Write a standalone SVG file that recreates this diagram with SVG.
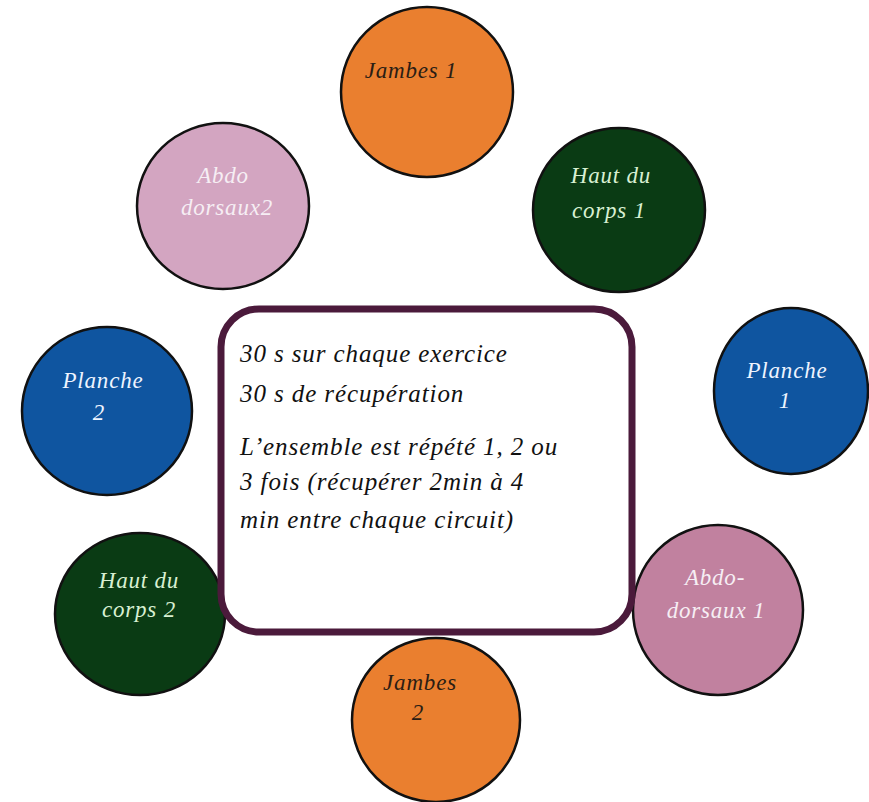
<svg xmlns="http://www.w3.org/2000/svg" width="869" height="802" viewBox="0 0 869 802">
<style>
.c{stroke:#111;stroke-width:2.5}
text{font-family:'Liberation Serif','Times New Roman',serif;font-style:italic}
.t{font-size:23px;letter-spacing:0.8px;text-anchor:middle}
.b{font-size:25px;letter-spacing:0.9px;fill:#111}
</style>
<rect width="869" height="802" fill="#fff"/>
<g id="jambes1"><ellipse class="c" cx="427" cy="92" rx="86" ry="85" fill="#ea7f2f"/><text class="t" x="411" y="78" fill="#2b1d14">Jambes 1</text></g>
<g id="haut-du-corps-1"><ellipse class="c" cx="619" cy="210" rx="86" ry="82" fill="#0a3b14"/><text class="t" x="611" y="183" fill="#d8f0d2">Haut du</text><text class="t" x="609" y="218" fill="#d8f0d2">corps 1</text></g>
<g id="abdo-dorsaux-2"><ellipse class="c" cx="223" cy="206" rx="86" ry="83" fill="#d3a5c1"/><text class="t" x="223" y="183" fill="#f6eef4">Abdo</text><text class="t" x="227" y="215" fill="#f6eef4">dorsaux2</text></g>
<g id="planche-1"><ellipse class="c" cx="791" cy="391" rx="77" ry="83" fill="#0f55a0"/><text class="t" x="787" y="378" fill="#eef4ff">Planche</text><text class="t" x="785" y="408" fill="#eef4ff">1</text></g>
<g id="planche-2"><ellipse class="c" cx="107" cy="411" rx="85" ry="84" fill="#0f55a0"/><text class="t" x="103" y="388" fill="#eef4ff">Planche</text><text class="t" x="99" y="420" fill="#eef4ff">2</text></g>
<g id="abdo-dorsaux-1"><ellipse class="c" cx="718" cy="610" rx="85" ry="85" fill="#c1819f"/><text class="t" x="715" y="585" fill="#f6eef4">Abdo-</text><text class="t" x="716" y="618" fill="#f6eef4">dorsaux 1</text></g>
<g id="haut-du-corps-2"><ellipse class="c" cx="140" cy="614" rx="85" ry="81" fill="#0a3b14"/><text class="t" x="139" y="588" fill="#d8f0d2">Haut du</text><text class="t" x="139" y="617" fill="#d8f0d2">corps 2</text></g>
<g id="jambes2"><ellipse class="c" cx="436" cy="720" rx="84" ry="82" fill="#ea7f2f"/><text class="t" x="420" y="690" fill="#2b1d14">Jambes</text><text class="t" x="418" y="720" fill="#2b1d14">2</text></g>
<g id="centre">
<rect x="221" y="309" width="411" height="323" rx="38" ry="38" fill="#fff" stroke="#4b1a3b" stroke-width="7"/>
<text class="b" x="240" y="362">30 s sur chaque exercice</text>
<text class="b" x="240" y="402">30 s de récupération</text>
<text class="b" x="240" y="455">L’ensemble est répété 1, 2 ou</text>
<text class="b" x="240" y="490">3 fois (récupérer 2min à 4</text>
<text class="b" x="240" y="528">min entre chaque circuit)</text>
</g>
<g id="connectors"/>
</svg>
